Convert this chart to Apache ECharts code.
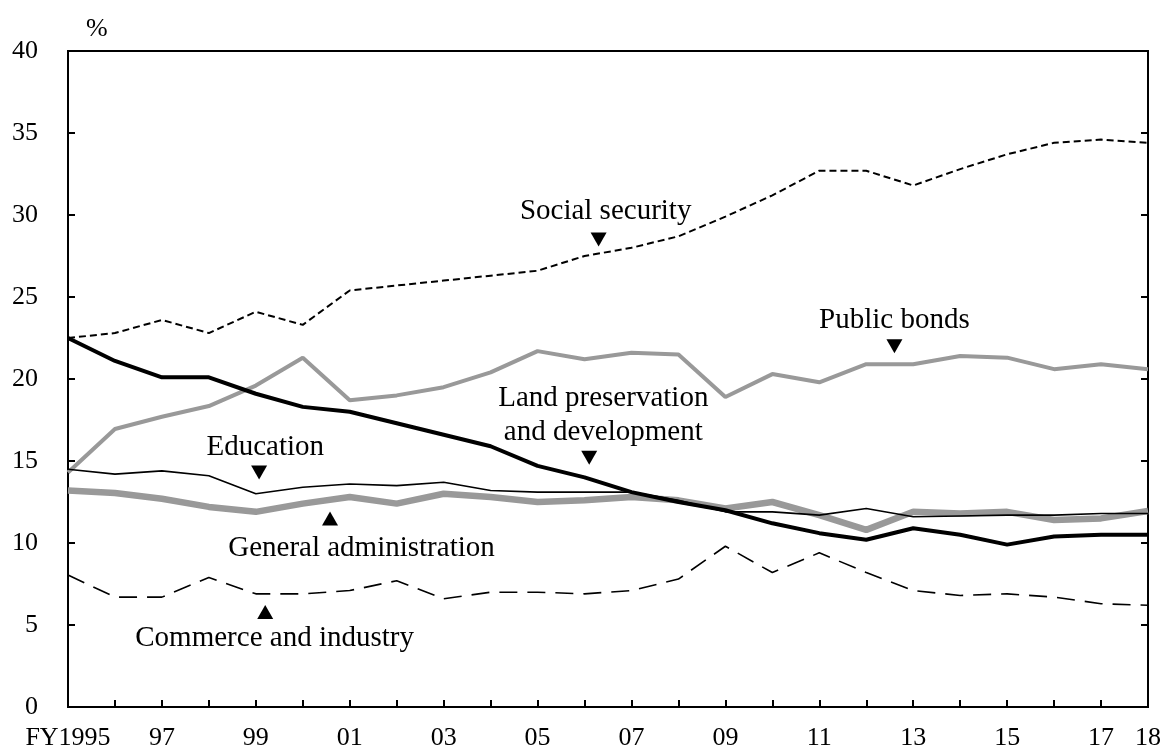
<!DOCTYPE html>
<html>
<head>
<meta charset="utf-8">
<script src="https://cdn.jsdelivr.net/npm/echarts@6/dist/echarts.min.js"></script>
<style>html,body{margin:0;padding:0;background:#fff}#c{width:1162px;height:749px}</style>
</head>
<body>
<div id="c"></div>
<script>
const years = [1995,1996,1997,1998,1999,2000,2001,2002,2003,2004,2005,2006,2007,2008,2009,2010,2011,2012,2013,2014,2015,2016,2017,2018];
const socialSecurity = [22.5,22.8,23.6,22.8,24.1,23.3,25.4,25.7,26.0,26.3,26.6,27.5,28.0,28.7,29.9,31.2,32.7,32.7,31.8,32.8,33.7,34.4,34.6,34.4];
const publicBonds = [14.3,16.95,17.7,18.35,19.6,21.3,18.7,19.0,19.5,20.4,21.7,21.2,21.6,21.5,18.9,20.3,19.8,20.9,20.9,21.4,21.3,20.6,20.9,20.6];
const landPreservation = [22.5,21.1,20.1,20.1,19.1,18.3,18.0,17.3,16.6,15.9,14.7,14.0,13.1,12.5,12.0,11.2,10.6,10.2,10.9,10.5,9.9,10.4,10.5,10.5];
const education = [14.5,14.2,14.4,14.1,13.0,13.4,13.6,13.5,13.7,13.2,13.1,13.1,13.1,12.6,11.9,11.9,11.7,12.1,11.6,11.65,11.7,11.7,11.8,11.8];
const generalAdmin = [13.2,13.05,12.7,12.2,11.9,12.4,12.8,12.4,13.0,12.8,12.5,12.6,12.8,12.6,12.1,12.5,11.7,10.8,11.9,11.8,11.9,11.4,11.5,11.95];
const commerceIndustry = [8.05,6.7,6.7,7.9,6.9,6.9,7.1,7.7,6.6,7.0,7.0,6.9,7.1,7.8,9.8,8.2,9.4,8.2,7.1,6.8,6.9,6.7,6.3,6.2];
const yTicks = [0,5,10,15,20,25,30,35,40];

// annotation: text, text position (year, value), arrow position (year, value), arrow direction
const annTexts = ['Social security','Public bonds','Land preservation\nand development','Education','General administration','Commerce and industry'];
const annTextPos = [[2006.45,30.2],[2012.6,23.6],[2006.4,17.8],[1999.2,15.8],[2001.25,9.7],[1999.4,4.2]];
const annArrowPos =[[2006.3,28.5],[2012.6,22.0],[2006.1,15.2],[1999.07,14.3],[2000.58,11.5],[1999.2,5.8]];
const annArrowDown = [true,true,true,true,false,false];

const pair = arr => years.map((y,i)=>[y,arr[i]]);
const FONT = 'Liberation Serif';

const chart = echarts.init(document.getElementById('c'), null, {renderer:'canvas'});
const lineSeries = (name, data, color, width, type) => ({
  name, type:'line', data: pair(data), showSymbol:false, symbol:'none',
  lineStyle:{color, width, type}, z: 2, silent:true, animation:false
});

chart.setOption({
  animation:false,
  backgroundColor:'#fff',
  grid:{left:68,right:14,top:51,bottom:42,containLabel:false,outerBoundsMode:'none',show:true,borderColor:'#000',borderWidth:2,backgroundColor:'transparent'},
  xAxis:{
    type:'value', min:1995, max:2018, interval:1,
    axisLine:{show:true,onZero:false,lineStyle:{color:'#000',width:2}},
    axisTick:{show:true,inside:true,length:7,lineStyle:{color:'#000',width:2}},
    splitLine:{show:false},
    axisLabel:{
      color:'#000', fontFamily:FONT, fontSize:26, margin:18, showMinLabel:true, showMaxLabel:true,
      formatter: v => {
        if (v===1995) return 'FY1995';
        if (v===2018) return '18';
        if ((v-1995)%2===0) return String(v).slice(2);
        return '';
      }
    }
  },
  yAxis:[{
    type:'value', min:0, max:40, interval:5,
    name:'%', nameLocation:'end', nameGap:9,
    nameTextStyle:{color:'#000',fontFamily:FONT,fontSize:26,align:'left',padding:[0,0,0,18]},
    axisLine:{show:true,lineStyle:{color:'#000',width:2}},
    axisTick:{show:true,inside:true,length:7,lineStyle:{color:'#000',width:2}},
    splitLine:{show:false},
    axisLabel:{color:'#000',fontFamily:FONT,fontSize:26,margin:30,
      formatter: v => yTicks.indexOf(v)>=0 ? String(v) : ''}
  },{
    type:'value', min:0, max:40, interval:5, position:'right',
    axisLine:{show:true,lineStyle:{color:'#000',width:2}},
    axisTick:{show:true,inside:true,length:7,lineStyle:{color:'#000',width:2}},
    splitLine:{show:false},
    axisLabel:{show:false}
  }],
  series:[
    lineSeries('General administration', generalAdmin, '#999999', 6.5, 'solid'),
    lineSeries('Public bonds', publicBonds, '#999999', 4, 'solid'),
    lineSeries('Education', education, '#000', 1.6, 'solid'),
    lineSeries('Commerce and industry', commerceIndustry, '#000', 1.6, [18,10]),
    lineSeries('Social security', socialSecurity, '#000', 2, [7,4]),
    lineSeries('Land preservation and development', landPreservation, '#000', 4, 'solid'),
    {
      type:'scatter', silent:true, z:5,
      data: annArrowPos.map((p,i)=>({value:p, symbolRotate: annArrowDown[i]?180:0})),
      symbol:'triangle', symbolSize:[16,14],
      itemStyle:{color:'#000',opacity:1}
    },
    {
      type:'scatter', silent:true, z:5, symbolSize:1,
      itemStyle:{color:'rgba(0,0,0,0)',opacity:1},
      data: annTextPos.map((p,i)=>({value:p, name:annTexts[i]})),
      label:{show:true, position:'inside', formatter: p=>p.name, color:'#000', opacity:1,
        fontFamily:FONT, fontSize:29, lineHeight:34, align:'center', verticalAlign:'middle'}
    }
  ]
});
</script>
</body>
</html>
